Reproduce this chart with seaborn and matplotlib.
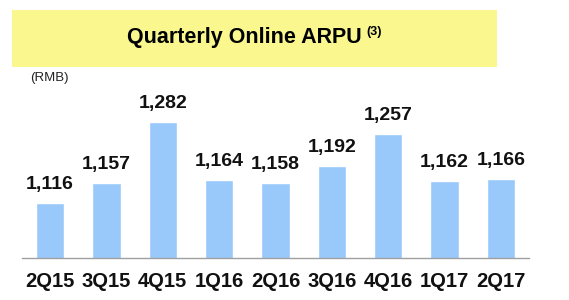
import matplotlib
matplotlib.use("Agg")
import matplotlib.pyplot as plt
import seaborn as sns
import pandas as pd
from matplotlib.patches import Rectangle

quarters = ["2Q15", "3Q15", "4Q15", "1Q16", "2Q16", "3Q16", "4Q16", "1Q17", "2Q17"]
arpu = [1116, 1157, 1282, 1164, 1158, 1192, 1257, 1162, 1166]
value_labels = ["1,116", "1,157", "1,282", "1,164", "1,158", "1,192", "1,257", "1,162", "1,166"]

sns.set_theme(style="white")
plt.rcParams['font.family'] = ['Liberation Sans', 'DejaVu Sans']

df = pd.DataFrame({"quarter": quarters, "arpu": arpu})

W, H = 569, 300
fig = plt.figure(figsize=(W / 100, H / 100), dpi=100)
fig.patch.set_facecolor("white")

# Title band
fig.patches.append(Rectangle((12 / W, 1 - 67 / H), 485 / W, 57 / H,
                             transform=fig.transFigure, facecolor="#F9F78E",
                             edgecolor="none", zorder=0))
fig.text(362 / W, 1 - 38 / H, "Quarterly Online ARPU", ha="right", va="center",
         fontsize=15.5, fontweight="bold", color="black")
fig.text(366 / W, 1 - 32 / H, "(3)", ha="left", va="center",
         fontsize=9, fontweight="bold", color="black")
fig.text(30 / W, 1 - 78 / H, "(RMB)", ha="left", va="center",
         fontsize=9.5, color="#222222")

ax = fig.add_axes([22 / W, 1 - 258 / H, 507 / W, 188 / H])
sns.barplot(data=df, x="quarter", y="arpu", color="#99C9FB", saturation=1,
            width=0.5, ax=ax, zorder=2)
ax.set_xlim(-0.5, len(quarters) - 0.5)
ax.set_ylim(1004, 1388)
for i, (v, lab) in enumerate(zip(arpu, value_labels)):
    ax.annotate(lab, (i, v), xytext=(0, 7), textcoords="offset points",
                ha="center", va="bottom", fontsize=14, fontweight="bold",
                color="#111111")
ax.set_xlabel("")
ax.set_ylabel("")
ax.set_yticks([])
ax.tick_params(axis="x", length=0, pad=10)
for t in ax.get_xticklabels():
    t.set_fontsize(14.5)
    t.set_fontweight("bold")
    t.set_color("#111111")
for s in ["top", "left", "right"]:
    ax.spines[s].set_visible(False)
ax.spines["bottom"].set_color("#A0A0A0")
ax.spines["bottom"].set_linewidth(1.0)
ax.patch.set_alpha(0)

fig.savefig("out.png", dpi=100)
